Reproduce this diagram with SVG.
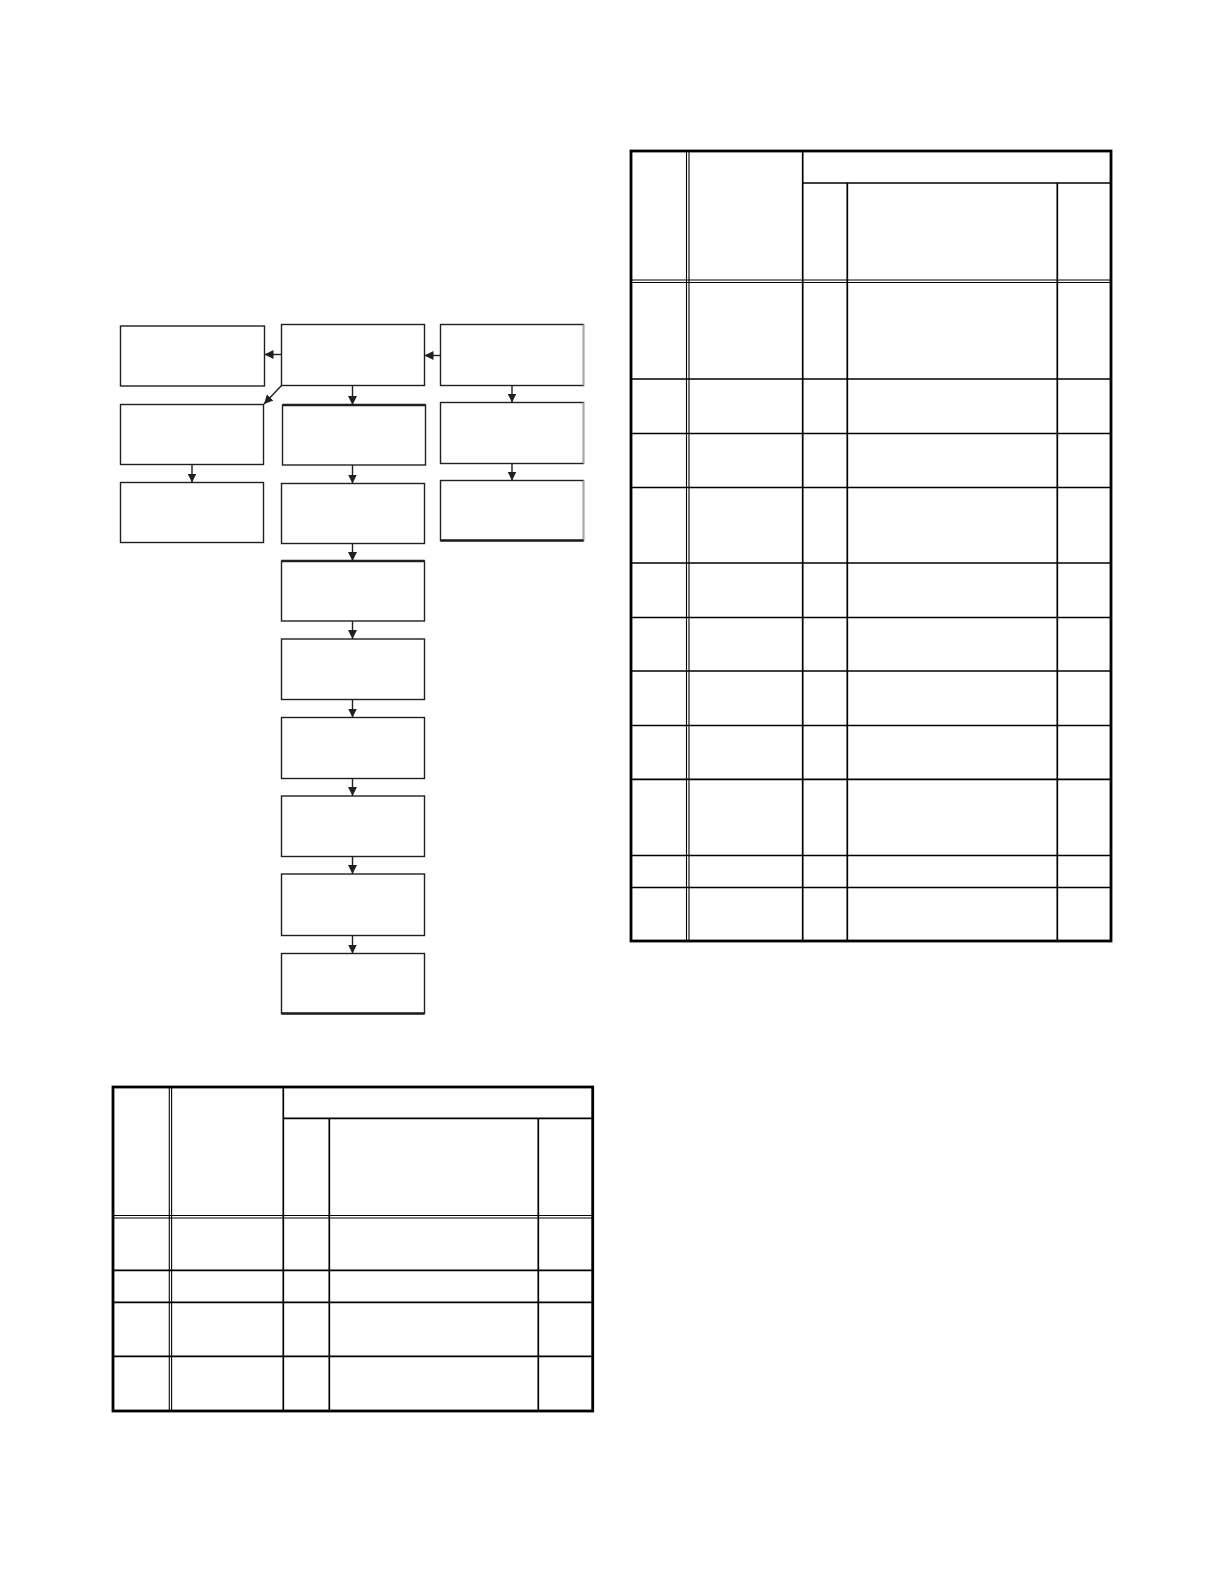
<svg xmlns="http://www.w3.org/2000/svg" width="1224" height="1584" viewBox="0 0 1224 1584">
<style>
.box{fill:#fff;stroke:#231f20;stroke-width:1.4}
.con{stroke:#231f20;stroke-width:1.4;fill:none}
.outer{fill:none;stroke:#000;stroke-width:2.8}
.in{stroke:#000;stroke-width:1.7}
.dbl{stroke:#000;stroke-width:1.1}
.pale{stroke:#aaa;stroke-width:1.4}
.thick{stroke:#231f20;stroke-width:2.4}
</style>
<defs>
<marker id="ah" viewBox="0 0 10 10" refX="10" refY="5" markerWidth="9" markerHeight="11" markerUnits="userSpaceOnUse" orient="auto">
<path d="M0,0 L10,5 L0,10 z" fill="#231f20"/>
</marker>
</defs>
<rect width="1224" height="1584" fill="#fff"/>

<g id="flow-nodes">
<g id="A1"><rect class="box" x="120.5" y="326" width="144" height="60"/></g>
<g id="M1"><rect class="box" x="281.5" y="324.5" width="143" height="61"/></g>
<g id="R1"><rect class="box" x="440.5" y="324.5" width="143" height="61"/><line class="pale" x1="583.5" y1="324.5" x2="583.5" y2="385.5"/></g>
<g id="A2"><rect class="box" x="120.5" y="404.5" width="143" height="60"/></g>
<g id="M2"><rect class="box" x="282.5" y="405" width="143" height="60"/><line class="thick" x1="282.5" y1="405" x2="425.5" y2="405"/></g>
<g id="R2"><rect class="box" x="440.5" y="402.5" width="143" height="61"/><line class="pale" x1="583.5" y1="402.5" x2="583.5" y2="463.5"/></g>
<g id="A3"><rect class="box" x="120.5" y="482.5" width="143" height="60"/></g>
<g id="M3"><rect class="box" x="281.5" y="483.5" width="143" height="60"/></g>
<g id="R3"><rect class="box" x="440.5" y="480.5" width="143" height="60"/><line class="pale" x1="583.5" y1="480.5" x2="583.5" y2="540.5"/><line class="thick" x1="440.5" y1="540.5" x2="583.5" y2="540.5"/></g>
<g id="M4"><rect class="box" x="281.5" y="561" width="143" height="60"/><line class="thick" x1="281.5" y1="561" x2="424.5" y2="561"/></g>
<g id="M5"><rect class="box" x="281.5" y="639" width="143" height="60.5"/></g>
<g id="M6"><rect class="box" x="281.5" y="717.5" width="143" height="61"/></g>
<g id="M7"><rect class="box" x="281.5" y="796" width="143" height="60.5"/></g>
<g id="M8"><rect class="box" x="281.5" y="874" width="143" height="61.5"/></g>
<g id="M9"><rect class="box" x="281.5" y="953.5" width="143" height="60"/><line class="thick" x1="281.5" y1="1013.5" x2="424.5" y2="1013.5"/></g>
</g>

<g id="connectors">
<line class="con" x1="281.5" y1="354.5" x2="264.5" y2="354.5" marker-end="url(#ah)"/>
<line class="con" x1="440.5" y1="355.5" x2="424.5" y2="355.5" marker-end="url(#ah)"/>
<line class="con" x1="281.5" y1="385.5" x2="264" y2="404" marker-end="url(#ah)"/>
<line class="con" x1="352.5" y1="385.5" x2="352.5" y2="405" marker-end="url(#ah)"/>
<line class="con" x1="512" y1="385.5" x2="512" y2="402.5" marker-end="url(#ah)"/>
<line class="con" x1="192" y1="464.5" x2="192" y2="482.5" marker-end="url(#ah)"/>
<line class="con" x1="352.5" y1="465" x2="352.5" y2="483.5" marker-end="url(#ah)"/>
<line class="con" x1="512" y1="463.5" x2="512" y2="480.5" marker-end="url(#ah)"/>
<line class="con" x1="352.5" y1="543.5" x2="352.5" y2="561" marker-end="url(#ah)"/>
<line class="con" x1="352.5" y1="621" x2="352.5" y2="639" marker-end="url(#ah)"/>
<line class="con" x1="352.5" y1="699.5" x2="352.5" y2="717.5" marker-end="url(#ah)"/>
<line class="con" x1="352.5" y1="778.5" x2="352.5" y2="796" marker-end="url(#ah)"/>
<line class="con" x1="352.5" y1="856.5" x2="352.5" y2="874" marker-end="url(#ah)"/>
<line class="con" x1="352.5" y1="935.5" x2="352.5" y2="953.5" marker-end="url(#ah)"/>
</g>

<g id="table-right">
<line class="dbl" x1="686.5" y1="151" x2="686.5" y2="941"/>
<line class="dbl" x1="689" y1="151" x2="689" y2="941"/>
<line class="in" x1="802.7" y1="151" x2="802.7" y2="941"/>
<line class="in" x1="847.3" y1="183" x2="847.3" y2="941"/>
<line class="in" x1="1057.3" y1="183" x2="1057.3" y2="941"/>
<line class="in" x1="802.7" y1="183" x2="1111" y2="183"/>
<line class="dbl" x1="631" y1="280" x2="1111" y2="280"/>
<line class="dbl" x1="631" y1="282.5" x2="1111" y2="282.5"/>
<line class="in" x1="631" y1="379" x2="1111" y2="379"/>
<line class="in" x1="631" y1="433.5" x2="1111" y2="433.5"/>
<line class="in" x1="631" y1="487.5" x2="1111" y2="487.5"/>
<line class="in" x1="631" y1="563" x2="1111" y2="563"/>
<line class="in" x1="631" y1="617.5" x2="1111" y2="617.5"/>
<line class="in" x1="631" y1="671" x2="1111" y2="671"/>
<line class="in" x1="631" y1="725.5" x2="1111" y2="725.5"/>
<line class="in" x1="631" y1="779.3" x2="1111" y2="779.3"/>
<line class="in" x1="631" y1="855.5" x2="1111" y2="855.5"/>
<line class="in" x1="631" y1="887.5" x2="1111" y2="887.5"/>
<rect class="outer" x="631" y="151" width="480" height="790"/>
</g>

<g id="table-left">
<line class="dbl" x1="169.3" y1="1087" x2="169.3" y2="1411"/>
<line class="dbl" x1="171.6" y1="1087" x2="171.6" y2="1411"/>
<line class="in" x1="283.3" y1="1087" x2="283.3" y2="1411"/>
<line class="in" x1="329.3" y1="1118.3" x2="329.3" y2="1411"/>
<line class="in" x1="538.3" y1="1118.3" x2="538.3" y2="1411"/>
<line class="in" x1="283.3" y1="1118.3" x2="592.7" y2="1118.3"/>
<line class="dbl" x1="113" y1="1215.5" x2="592.7" y2="1215.5"/>
<line class="dbl" x1="113" y1="1218" x2="592.7" y2="1218"/>
<line class="in" x1="113" y1="1270.3" x2="592.7" y2="1270.3"/>
<line class="in" x1="113" y1="1302.3" x2="592.7" y2="1302.3"/>
<line class="in" x1="113" y1="1356.3" x2="592.7" y2="1356.3"/>
<rect class="outer" x="113" y="1087" width="479.7" height="324"/>
</g>
</svg>
